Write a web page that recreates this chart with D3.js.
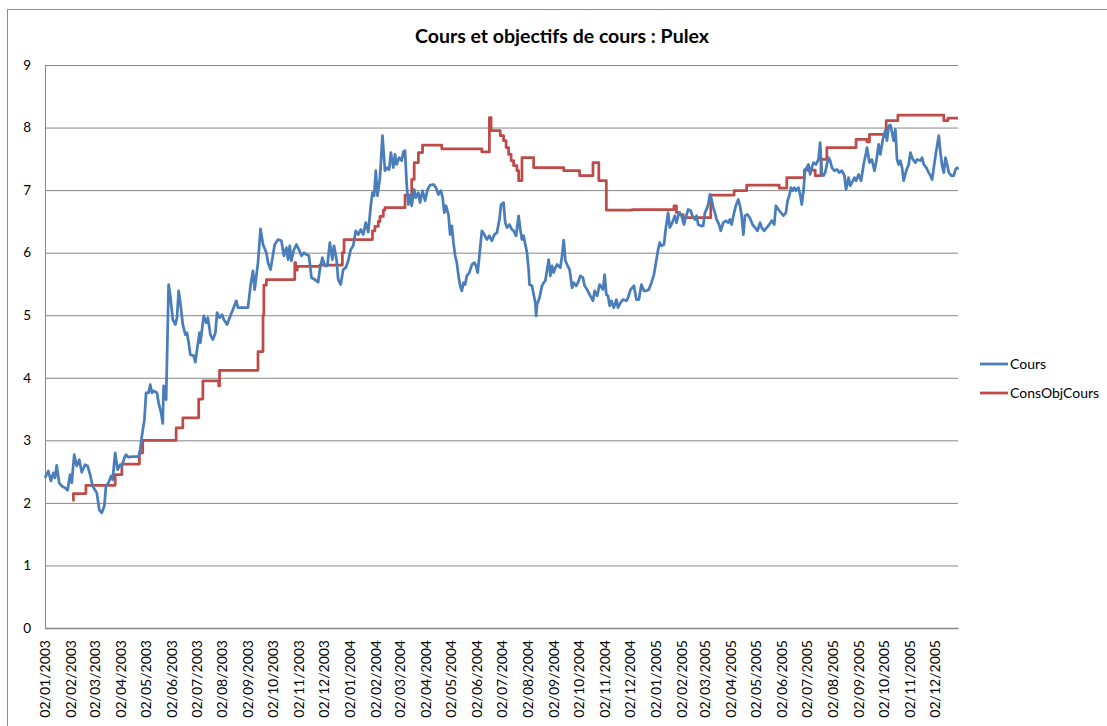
<!DOCTYPE html>
<html>
<head>
<meta charset="utf-8">
<script src="https://cdn.jsdelivr.net/npm/d3@7"></script>
<style>
  body { margin: 0; background: #fff; }
  svg text { font-family: Lato, "Liberation Sans", Arial, sans-serif; fill: #000; }
</style>
</head>
<body>
<div id="chart"></div>
<script>
// date de départ des séries (jour 0)
var debut = "2003-01-02";

// Cours : [jour depuis le debut, valeur]
var cours = [
  [0,2.4],[4,2.51],[7,2.35],[10,2.48],[12,2.4],[14,2.6],[17,2.32],[20,2.27],[24,2.24],[27,2.2],
  [30,2.45],[32,2.32],[35,2.77],[38,2.59],[41,2.69],[44,2.49],[48,2.61],[51,2.59],[54,2.45],[57,2.27],
  [62,2.16],[65,1.89],[68,1.84],[71,1.95],[73,2.27],[76,2.32],[79,2.43],[81,2.37],[84,2.8],[87,2.53],
  [90,2.61],[92,2.59],[95,2.72],[97,2.77],[100,2.73],[105,2.74],[112,2.74],[114,2.85],[116,3.07],[119,3.33],
  [121,3.76],[124,3.76],[126,3.89],[128,3.76],[130,3.79],[134,3.76],[136,3.6],[139,3.44],[141,3.27],[142,3.87],
  [145,3.65],[148,5.49],[150,5.31],[153,4.93],[156,4.85],[158,4.96],[160,5.39],[162,5.2],[165,4.85],[168,4.69],
  [170,4.72],[172,4.56],[174,4.37],[178,4.35],[180,4.25],[182,4.45],[185,4.72],[186,4.56],[190,4.99],[193,4.88],
  [195,4.96],[198,4.69],[201,4.61],[204,4.72],[206,5.04],[209,4.96],[212,5.01],[214,4.93],[218,4.85],[221,4.96],
  [225,5.09],[229,5.23],[231,5.12],[235,5.12],[239,5.12],[243,5.12],[246,5.47],[249,5.71],[251,5.41],[253,5.63],
  [255,5.84],[258,6.38],[261,6.13],[265,6.0],[267,5.84],[270,5.73],[275,6.13],[279,6.21],[283,6.19],[286,5.95],
  [289,6.08],[291,5.89],[293,6.11],[295,5.87],[298,6.05],[301,6.13],[304,6.05],[307,5.95],[310,6.0],[313,5.97],
  [316,5.95],[319,5.6],[323,5.57],[327,5.53],[329,5.73],[332,5.92],[335,5.79],[338,5.79],[341,6.16],[344,5.89],
  [346,6.11],[349,5.89],[351,5.57],[354,5.49],[357,5.73],[360,5.76],[363,5.87],[366,6.05],[369,6.11],[372,6.35],
  [375,6.29],[378,6.37],[381,6.29],[384,6.48],[387,6.33],[390,6.75],[392,6.96],[394,6.91],[396,7.31],[398,6.91],
  [401,7.2],[404,7.87],[407,7.31],[410,7.36],[412,7.33],[414,7.6],[417,7.36],[419,7.57],[421,7.41],[424,7.52],
  [427,7.47],[429,7.61],[431,7.63],[433,7.09],[435,6.77],[437,6.91],[439,6.75],[442,7.01],[444,6.88],[447,6.96],
  [449,6.8],[452,6.99],[455,6.83],[458,7.01],[461,7.08],[465,7.09],[468,7.04],[471,6.93],[474,6.99],[476,6.88],
  [478,6.64],[480,6.75],[483,6.61],[485,6.29],[487,6.43],[489,6.16],[491,5.95],[493,5.84],[495,5.63],[497,5.47],
  [499,5.39],[501,5.52],[503,5.49],[505,5.63],[508,5.68],[511,5.81],[514,5.84],[516,5.79],[518,5.68],[520,5.95],
  [523,6.35],[526,6.29],[529,6.21],[532,6.27],[535,6.19],[538,6.29],[541,6.32],[544,6.53],[546,6.77],[549,6.8],
  [551,6.48],[553,6.4],[556,6.45],[559,6.37],[561,6.35],[564,6.27],[567,6.59],[569,6.37],[571,6.21],[573,6.27],
  [575,6.13],[577,6.0],[579,5.73],[580,5.49],[583,5.47],[585,5.33],[587,5.2],[588,4.99],[589,5.17],[592,5.28],
  [595,5.47],[597,5.52],[599,5.55],[603,5.89],[605,5.63],[607,5.79],[609,5.68],[611,5.76],[613,5.81],[617,5.76],
  [619,5.95],[621,6.2],[623,5.87],[625,5.81],[628,5.73],[631,5.44],[633,5.52],[636,5.47],[638,5.52],[641,5.63],
  [644,5.6],[646,5.47],[649,5.41],[652,5.33],[656,5.23],[658,5.39],[661,5.31],[664,5.49],[668,5.41],[670,5.65],
  [672,5.33],[674,5.31],[676,5.15],[678,5.23],[681,5.12],[684,5.25],[686,5.12],[689,5.2],[692,5.25],[696,5.23],
  [698,5.28],[701,5.41],[705,5.47],[708,5.25],[711,5.25],[714,5.49],[717,5.39],[720,5.39],[723,5.41],[726,5.52],
  [729,5.65],[731,5.81],[734,6.05],[736,6.16],[738,6.11],[741,6.13],[743,6.37],[746,6.64],[748,6.4],[751,6.48],
  [754,6.59],[756,6.48],[759,6.64],[762,6.59],[765,6.45],[767,6.56],[770,6.69],[773,6.67],[775,6.59],[778,6.53],
  [780,6.59],[782,6.45],[785,6.43],[788,6.43],[790,6.64],[792,6.69],[794,6.77],[796,6.93],[798,6.85],[800,6.72],
  [802,6.64],[804,6.53],[807,6.45],[809,6.35],[812,6.48],[815,6.51],[818,6.48],[820,6.53],[822,6.45],[825,6.64],
  [827,6.75],[830,6.85],[832,6.75],[834,6.59],[836,6.29],[838,6.59],[841,6.61],[844,6.55],[847,6.45],[850,6.4],
  [853,6.35],[856,6.48],[858,6.4],[861,6.35],[864,6.4],[867,6.45],[870,6.51],[873,6.45],[875,6.75],[878,6.69],
  [881,6.64],[884,6.59],[887,6.64],[889,6.83],[891,6.91],[893,7.04],[895,6.99],[897,7.04],[899,6.99],[902,7.04],
  [904,6.93],[906,6.77],[908,6.99],[910,7.33],[912,7.36],[914,7.41],[916,7.25],[918,7.36],[920,7.44],[923,7.41],
  [926,7.49],[928,7.76],[930,7.25],[932,7.23],[934,7.28],[936,7.41],[938,7.52],[940,7.47],[942,7.36],[945,7.31],
  [948,7.33],[951,7.28],[954,7.31],[957,7.23],[959,7.01],[962,7.2],[964,7.07],[966,7.12],[969,7.2],[971,7.15],
  [974,7.25],[977,7.15],[980,7.41],[983,7.6],[984,7.68],[987,7.44],[990,7.49],[993,7.31],[995,7.44],[998,7.73],
  [1000,7.57],[1003,7.81],[1006,7.95],[1008,7.79],[1010,8.03],[1012,8.04],[1014,7.92],[1016,7.79],[1018,7.97],[1020,7.49],
  [1022,7.41],[1024,7.47],[1026,7.36],[1028,7.15],[1031,7.31],[1034,7.41],[1036,7.6],[1039,7.49],[1042,7.44],[1044,7.49],
  [1048,7.47],[1050,7.52],[1052,7.41],[1055,7.36],[1058,7.28],[1060,7.23],[1062,7.17],[1064,7.36],[1067,7.63],[1070,7.87],
  [1072,7.6],[1074,7.39],[1076,7.28],[1078,7.52],[1080,7.41],[1082,7.28],[1085,7.23],[1088,7.23],[1090,7.33],[1092,7.36],
  [1093,7.33]
];

// ConsObjCours : [jour depuis le debut, objectif] (valeur gardée jusqu'au point suivant)
var consObjCours = [
  [33,2.04],[34,2.15],[49,2.28],[84,2.45],[92,2.62],[113,2.8],[117,3.0],[157,3.2],[165,3.36],[184,3.66],
  [189,3.95],[208,3.87],[209,4.12],[255,4.42],[261,5.0],[262,5.48],[265,5.57],[299,5.84],[300,5.72],[302,5.78],
  [329,5.8],[356,6.0],[358,6.21],[392,6.35],[395,6.42],[399,6.5],[401,6.58],[405,6.68],[407,6.72],[431,6.92],
  [439,7.17],[442,7.44],[447,7.6],[452,7.72],[475,7.66],[523,7.61],[532,8.16],[534,7.95],[545,7.87],[549,7.79],
  [552,7.68],[555,7.57],[558,7.47],[561,7.39],[565,7.31],[567,7.15],[571,7.52],[585,7.36],[621,7.31],[640,7.23],
  [656,7.44],[663,7.15],[672,6.68],[703,6.69],[753,6.75],[756,6.64],[760,6.61],[764,6.56],[797,6.92],[825,6.99],
  [840,7.08],[879,7.03],[888,7.2],[909,7.32],[922,7.23],[929,7.49],[936,7.68],[971,7.81],[984,7.77],[987,7.89],
  [1007,8.11],[1021,8.2],[1076,8.11],[1081,8.15],[1093,8.15]
];

// étiquettes de l'axe des dates
var etiquettesDates = [
  "02/01/2003","02/02/2003","02/03/2003","02/04/2003","02/05/2003","02/06/2003",
  "02/07/2003","02/08/2003","02/09/2003","02/10/2003","02/11/2003","02/12/2003",
  "02/01/2004","02/02/2004","02/03/2004","02/04/2004","02/05/2004","02/06/2004",
  "02/07/2004","02/08/2004","02/09/2004","02/10/2004","02/11/2004","02/12/2004",
  "02/01/2005","02/02/2005","02/03/2005","02/04/2005","02/05/2005","02/06/2005",
  "02/07/2005","02/08/2005","02/09/2005","02/10/2005","02/11/2005","02/12/2005"
];
var graduationsY = [0, 1, 2, 3, 4, 5, 6, 7, 8, 9];
var series = ["Cours", "ConsObjCours"];
var couleurs = ["#4A7EBB", "#BE4B48"];
var titre = "Cours et objectifs de cours : Pulex";

// dimensions
var svgWidth = 1107;
var svgHeight = 726;
var margin = { top: 65, right: 149, bottom: 98, left: 45 };
var width = svgWidth - margin.left - margin.right;
var height = svgHeight - margin.top - margin.bottom;

var svg = d3.select("#chart")
  .append("svg")
  .attr("width", svgWidth)
  .attr("height", svgHeight);

// bordure de la zone de graphique
svg.append("rect")
  .attr("x", 7.5)
  .attr("y", 9.5)
  .attr("width", 1200)
  .attr("height", 800)
  .attr("fill", "none")
  .attr("stroke", "#8c8c8c")
  .attr("stroke-width", 1);

var parseIso = d3.utcParse("%Y-%m-%d");
var parseFr = d3.utcParse("%d/%m/%Y");
var t0 = parseIso(debut);
var jourEnDate = function(j) { return d3.utcDay.offset(t0, j); };

var xScale = d3.scaleUtc()
  .domain([t0, jourEnDate(cours[cours.length - 1][0])])
  .range([0, width]);

var yScale = d3.scaleLinear()
  .domain([0, 9])
  .range([height, 0]);

var chartGroup = svg.append("g")
  .attr("transform", `translate(${margin.left}, ${margin.top})`);

// axe Y avec quadrillage
var yAxis = chartGroup.append("g")
  .call(d3.axisLeft(yScale)
    .tickValues(graduationsY)
    .tickSize(-width)
    .tickSizeOuter(0)
    .tickPadding(14)
    .tickFormat(d3.format("d")));
yAxis.selectAll(".tick line").attr("stroke", "#868686");
yAxis.select(".domain").attr("stroke", "#868686");
yAxis.selectAll("text").attr("font-size", "13.5px");

// axe X (dates)
var xAxis = chartGroup.append("g")
  .attr("transform", `translate(0, ${height})`)
  .call(d3.axisBottom(xScale)
    .tickValues(etiquettesDates.map(parseFr))
    .tickSize(0)
    .tickSizeOuter(0)
    .tickFormat(d3.utcFormat("%d/%m/%Y")));
xAxis.select(".domain").attr("stroke", "#868686").attr("stroke-width", 1.5);
xAxis.selectAll("text")
  .attr("font-size", "14px")
  .attr("text-anchor", "end")
  .attr("transform", "rotate(-90)")
  .attr("x", -12)
  .attr("y", 0)
  .attr("dy", "0.35em");

// lignes
var line = d3.line()
  .x(d => xScale(jourEnDate(d[0])))
  .y(d => yScale(d[1]));

var lineStep = d3.line()
  .curve(d3.curveStepAfter)
  .x(d => xScale(jourEnDate(d[0])))
  .y(d => yScale(d[1]));

chartGroup.append("path")
  .datum(consObjCours)
  .attr("d", lineStep)
  .attr("fill", "none")
  .attr("stroke", couleurs[1])
  .attr("stroke-width", 2.75)
  .attr("stroke-linejoin", "round");

chartGroup.append("path")
  .datum(cours)
  .attr("d", line)
  .attr("fill", "none")
  .attr("stroke", couleurs[0])
  .attr("stroke-width", 2.75)
  .attr("stroke-linejoin", "round");

// titre
svg.append("text")
  .attr("x", 562)
  .attr("y", 43)
  .attr("text-anchor", "middle")
  .attr("font-size", "19.5px")
  .attr("font-weight", "bold")
  .text(titre);

// légende
var legend = svg.append("g")
  .attr("transform", "translate(980, 364)");

var item = legend.selectAll("g")
  .data(series)
  .enter()
  .append("g")
  .attr("transform", (d, i) => `translate(0, ${i * 29})`);

item.append("line")
  .attr("x1", 0)
  .attr("x2", 28)
  .attr("stroke", (d, i) => couleurs[i])
  .attr("stroke-width", 2.75);

item.append("text")
  .attr("x", 30)
  .attr("dy", "0.35em")
  .attr("font-size", "14px")
  .text(d => d);
</script>
</body>
</html>
